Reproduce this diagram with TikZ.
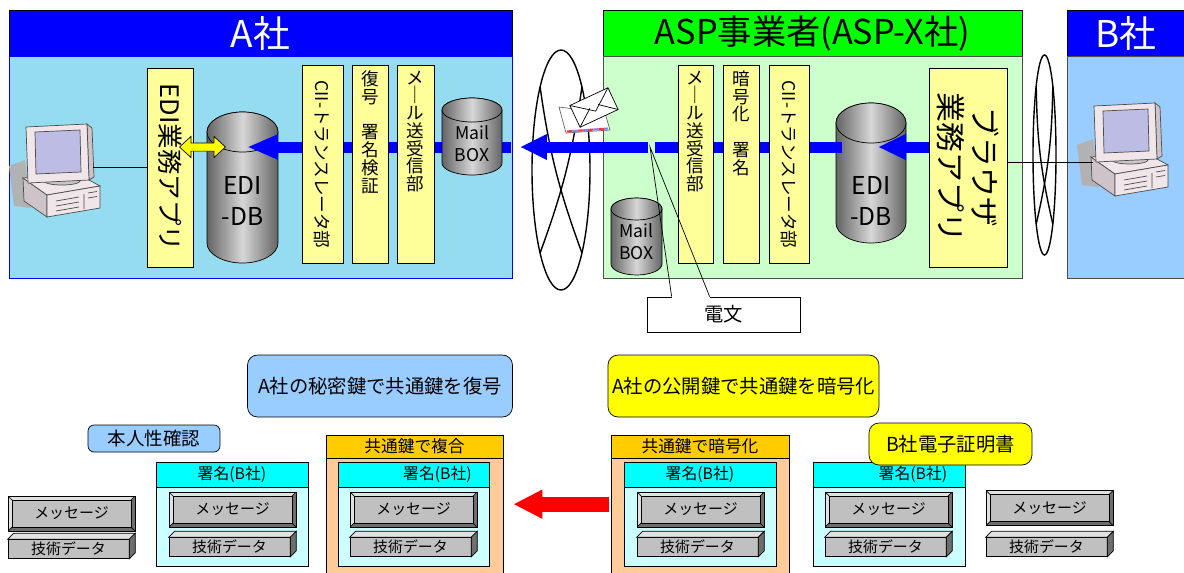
\documentclass[tikz,border=0pt]{standalone}
\usepackage{fontspec}
\setmainfont{Noto Sans CJK JP}
\usepackage{tikz}
\usetikzlibrary{arrows.meta,shapes.arrows,positioning}

\definecolor{hdrblue}{RGB}{0,0,255}
\definecolor{abody}{RGB}{150,220,240}
\definecolor{aspgreen}{RGB}{0,255,0}
\definecolor{aspbody}{RGB}{204,255,204}
\definecolor{bbody}{RGB}{153,204,255}
\definecolor{paleyellow}{RGB}{255,255,153}
\definecolor{keyblue}{RGB}{153,204,255}
\definecolor{certyellow}{RGB}{255,255,0}
\definecolor{sigcyan}{RGB}{0,255,255}
\definecolor{sigbody}{RGB}{204,255,255}
\definecolor{encorange}{RGB}{255,204,0}
\definecolor{encbody}{RGB}{255,204,153}
\definecolor{plate}{RGB}{192,192,192}
\definecolor{platelight}{RGB}{225,225,225}
\definecolor{platedark}{RGB}{110,110,110}
\definecolor{drumedge}{RGB}{100,100,100}
\definecolor{drummid}{RGB}{215,215,215}
\definecolor{pcbeige}{RGB}{240,230,234}
\definecolor{pcside}{RGB}{205,195,200}
\definecolor{pcscreen}{RGB}{188,188,228}
\definecolor{pcshadow}{RGB}{178,178,178}

% database drum: centre x, top y, x radius, y radius, bottom y
\newcommand{\drum}[5]{%
  \path[drum] (#1-#3,#2-#4) -- (#1-#3,#5+#4)
    arc[start angle=180,end angle=360,x radius=#3,y radius=#4]
    -- (#1+#3,#2-#4)
    arc[start angle=0,end angle=180,x radius=#3,y radius=#4] -- cycle;
  \path[drum] (#1,#2-#4) ellipse[x radius=#3,y radius=#4];
}
% twisted network loop: centre x, centre y, x radius, y radius
\newcommand{\twist}[4]{%
  \draw[thick] (#1,#2) ellipse[x radius=#3,y radius=#4];
  \draw[thick] (#1-0.72*#3,#2+0.69*#4) to[bend right=6] (#1+0.72*#3,#2-0.69*#4);
  \draw[thick] (#1+0.72*#3,#2+0.69*#4) to[bend left=6] (#1-0.72*#3,#2-0.69*#4);
}
% stacked upright characters
\newcommand{\tate}[1]{\parbox[c][3.75cm][t]{0.6cm}{\centering\fontsize{10}{10.1}\selectfont #1}}

\begin{document}
\begin{tikzpicture}[x=0.02cm, y=0.02cm,
    title/.style={font=\fontsize{21}{24}\selectfont, inner sep=0},
    slab/.style={draw, fill=paleyellow, inner sep=0},
    drum/.style={draw, left color=drumedge, right color=drumedge, middle color=drummid},
    drumtext/.style={align=center, inner sep=0},
    bluebar/.style={draw=hdrblue, line width=0.22cm},
    note/.style={draw, rounded corners=0.2cm, inner sep=0, font=\fontsize{11}{13}\selectfont},
    enchead/.style={draw, fill=encorange, minimum height=0.46cm, inner sep=0, font=\fontsize{9.5}{11}\selectfont},
    encpane/.style={draw, fill=encbody, minimum height=2.4cm, inner sep=0},
    sighead/.style={draw, fill=sigcyan, minimum width=3.04cm, minimum height=0.5cm, inner sep=0, font=\fontsize{9}{11}\selectfont},
    sigpane/.style={draw, fill=sigbody, minimum width=3.04cm, minimum height=1.58cm, inner sep=0},
    msgbox/.style={draw, fill=platedark, minimum width=2.54cm, minimum height=0.7cm, inner sep=0,
      font=\fontsize{8.5}{10}\selectfont,
      path picture={
        \fill[platelight] (path picture bounding box.north west) -- (path picture bounding box.north east)
          -- ([shift={(-4,-4)}]path picture bounding box.north east) -- ([shift={(4,-4)}]path picture bounding box.north west)
          -- ([shift={(4,4)}]path picture bounding box.south west) -- (path picture bounding box.south west) -- cycle;
        \draw[fill=plate] ([shift={(4,4)}]path picture bounding box.south west) rectangle ([shift={(-4,-4)}]path picture bounding box.north east);
        \draw (path picture bounding box.north west) -- ++(4,-4) (path picture bounding box.north east) -- ++(-4,-4)
          (path picture bounding box.south west) -- ++(4,4) (path picture bounding box.south east) -- ++(-4,4);
      }},
    databox/.style={draw, fill=plate, minimum width=2.42cm, minimum height=0.38cm, inner sep=0, font=\fontsize{8.5}{10}\selectfont},
    computer/.pic={
      \fill[pcshadow] (9,-66) -- (25,-60) -- (31,-108) -- (14,-106) -- cycle;
      \draw[black!70, fill=pcside] (23,-78) -- (47,-95) -- (47,-117) -- (24,-101) -- cycle;
      \draw[black!70, fill=pcbeige] (23,-78) -- (78,-74) -- (100,-86) -- (47,-95) -- cycle;
      \draw[black!70, fill=pcbeige] (47,-95) -- (100,-86) -- (100,-108) -- (47,-117) -- cycle;
      \draw[black!70] (56,-101) -- (79,-97) (56,-106) -- (79,-102) (56,-111) -- (79,-107)
        (84,-94) -- (84,-109) (88,-93) -- (97,-91.5) (88,-98) -- (97,-96.5);
      \draw[black!70, fill=pcside] (62,-81) ellipse[x radius=18,y radius=4];
      \draw[black!70, fill=pcside] (87,-24) -- (92,-28) -- (94,-77) -- (89,-80) -- cycle;
      \draw[black!70, fill=pcbeige] (26,-27) -- (87,-24) -- (89,-80) -- (28,-83) -- cycle;
      \draw[black!70, fill=pcscreen] (35,-32) -- (80,-30) -- (81,-72) -- (36,-74) -- cycle;
      \coordinate (-east) at (93,-67);
      \coordinate (-west) at (25,-83);
    }
]
\useasboundingbox (0,0) rectangle (1184,-572);

%% Frames
\draw[fill=hdrblue] (9,-10) rectangle (512,-56);
\draw[draw=hdrblue, fill=abody] (9,-56) rectangle (512,-278);
\node[title, text=white] (atitle) at (260.5,-33) {A社};

\draw[fill=aspgreen] (603,-10) rectangle (1022,-56);
\draw[draw=black!70, fill=aspbody] (603,-56) rectangle (1022,-278);
\node[title, font=\fontsize{19.5}{22}\selectfont] (asptitle) at (812.5,-33) {ASP事業者(ASP-X社)};

\draw[fill=hdrblue] (1067,-10) rectangle (1190,-56);
\draw[draw=black!70, fill=bbody] (1067,-56) rectangle (1190,-278);
\node[title, text=white] (btitle) at (1126,-33) {B社};

%% Network loops
\twist{561}{-170}{29}{120}
\twist{1044.5}{-155}{11.5}{100}

%% Terminals
\pic (pca) at (0,-100) {computer};
\pic (pcb) at (1068,-79) {computer};

%% Databases
\drum{242.5}{-112}{35.5}{20}{-263}
\node[drumtext, font=\fontsize{14}{18}\selectfont] (edia) at (242.5,-201) {EDI\\-DB};
\drum{871}{-103}{35}{20}{-243}
\node[drumtext, font=\fontsize{14}{18}\selectfont] (edix) at (871,-201) {EDI\\-DB};

%%% Arrows
\coordinate (ina) at (247,-147);
\coordinate (feeda) at (511,-147);
\coordinate (inx) at (878,-147);
\coordinate (tailx) at (842,-147);
\coordinate (tap) at (650,-147);
\coordinate (outx) at (520,-147);
\draw[bluebar, -{Triangle[length=0.62cm,width=0.46cm]}] (feeda) -- (ina);
\draw[bluebar] (tailx) -- ([xshift=0.1cm]tap);
\draw[bluebar, -{Triangle[length=0.54cm,width=0.48cm]}] ([xshift=-0.04cm]tap) -- (outx);

%% Modules
\node[slab, rotate=-90, minimum width=3.98cm, minimum height=0.92cm, font=\fontsize{14.5}{16}\selectfont] (appa) at (170,-167.5) {EDI業務アプリ};
\node[slab, rotate=-90, minimum width=3.96cm, minimum height=0.82cm, font=\fontsize{10}{12}\selectfont] (ciia) at (322.5,-164.5) {CII-トランスレータ部};
\node[slab, minimum width=0.72cm, minimum height=3.96cm] (veria) at (370,-164.5) {\tate{復\\号\\\mbox{}\\署\\名\\検\\証}};
\node[slab, minimum width=0.74cm, minimum height=3.96cm] (maila) at (415.5,-164.5) {\tate{メ\\｜\\ル\\送\\受\\信\\部}};

\node[slab, minimum width=0.7cm, minimum height=3.96cm] (mailx) at (695.5,-164.5) {\tate{メ\\｜\\ル\\送\\受\\信\\部}};
\node[slab, minimum width=0.72cm, minimum height=3.96cm] (encx) at (741,-164.5) {\tate{暗\\号\\化\\\mbox{}\\署\\名}};
\node[slab, rotate=-90, minimum width=3.96cm, minimum height=0.8cm, font=\fontsize{10}{12}\selectfont] (ciix) at (789,-164.5) {CII-トランスレータ部};
\node[slab, rotate=-90, minimum width=3.98cm, minimum height=1.56cm, align=center, font=\fontsize{17}{19}\selectfont] (browser) at (968,-167.5) {ブラウザ\\業務アプリ};

\draw[bluebar, -{Triangle[length=0.56cm,width=0.48cm]}] (browser.south |- inx) -- (inx);
\draw (pca-east) -- (pca-east -| appa.south);
\draw (browser.north |- pcb-west) -- (pcb-west);

%% Mail boxes
\drum{472}{-98}{30}{12}{-175}
\node[drumtext, font=\fontsize{10}{12.5}\selectfont] (mboxa) at (472,-144) {Mail\\BOX};
\drum{636.5}{-198}{25.5}{11}{-275}
\node[drumtext, font=\fontsize{10}{12.5}\selectfont] (mboxx) at (636.5,-242) {Mail\\BOX};

\node[double arrow, draw, fill=certyellow, minimum height=0.92cm, inner sep=0.075cm,
  double arrow head extend=0.13cm, double arrow tip angle=85] (sync) at (202.5,-147) {};

%% Envelope
\begin{scope}[shift={(585,-110)}]
  \draw[fill=white, draw=black!60] (-26,3) -- (20,-3) -- (25,-20) -- (-19,-23) -- cycle;
  \draw[red!80, line width=1.2pt, dash pattern=on 3pt off 3pt] (-18,-21.5) -- (23,-18.5);
  \draw[blue!50, line width=1.2pt, dash pattern=on 3pt off 3pt, dash phase=3pt] (-18,-21.5) -- (23,-18.5);
  \begin{scope}[shift={(9,2.5)}, rotate=25]
    \draw[fill=white] (-21,-12) rectangle (21,12);
    \draw (-21,12) -- (0,-4) -- (21,12);
    \draw (-21,-12) -- (-4,1) (21,-12) -- (5,1);
  \end{scope}
\end{scope}

%% Message callout
\node[draw, fill=white, minimum width=3.06cm, minimum height=0.7cm, font=\fontsize{11}{13}\selectfont] (dembun) at (723.5,-314.5) {電文};
\draw[white, line width=1.2pt] ([xshift=0.5cm]dembun.north west) -- ([xshift=1.26cm]dembun.north west);
\draw ([xshift=0.5cm]dembun.north west) -- (tap) -- ([xshift=1.26cm]dembun.north west);

%% Key handling
\node[note, fill=keyblue, minimum width=5.3cm, minimum height=1.24cm] (decnote) at (380,-386) {A社の秘密鍵で共通鍵を復号};
\node[note, fill=certyellow, minimum width=5.42cm, minimum height=1.24cm] (encnote) at (743.5,-386) {A社の公開鍵で共通鍵を暗号化};
\node[note, fill=keyblue, rounded corners=0.12cm, minimum width=2.64cm, minimum height=0.54cm, font=\fontsize{10.5}{12}\selectfont] (idnote) at (154,-438.5) {本人性確認};

\node[enchead, minimum width=3.54cm] (dechd) at (414.5,-446.5) {共通鍵で複合};
\node[encpane, minimum width=3.54cm, below=0pt of dechd] (decbd) {};
\node[enchead, minimum width=3.56cm] (enchd) at (700,-446.5) {共通鍵で暗号化};
\node[encpane, minimum width=3.56cm, below=0pt of enchd] (encbd) {};

\node[sighead] (sighd1) at (232,-474.5) {署名(B社)};
\node[sigpane, below=0pt of sighd1] (sigbd1) {};
\node[sighead, minimum width=3.02cm] (sighd2) at (413.5,-474.5) {\hspace*{0.96cm}署名(B社)};
\node[sigpane, minimum width=3.02cm, below=0pt of sighd2] (sigbd2) {};
\node[sighead] (sighd3) at (700,-474.5) {署名(B社)};
\node[sigpane, below=0pt of sighd3] (sigbd3) {};
\node[sighead] (sighd4) at (889,-474.5) {\hspace*{0.96cm}署名(B社)};
\node[sigpane, below=0pt of sighd4] (sigbd4) {};

\node[note, fill=certyellow, minimum width=3.26cm, minimum height=0.84cm] (certnote) at (950.5,-444) {B社電子証明書};

%% Message and technical data
\node[msgbox] (msg0) at (71.5,-513.5) {メッセージ};
\node[msgbox] (msg1) at (232.5,-509.5) {メッセージ};
\node[msgbox] (msg2) at (413.5,-509.5) {メッセージ};
\node[msgbox] (msg3) at (700.5,-509.5) {メッセージ};
\node[msgbox] (msg4) at (888.5,-509.5) {メッセージ};
\node[msgbox] (msg5) at (1049.5,-508) {メッセージ};

\node[databox] (dat0) at (68.5,-549) {技術データ};
\node[databox] (dat1) at (229.5,-547) {技術データ};
\node[databox] (dat2) at (410.5,-547) {技術データ};
\node[databox] (dat3) at (697.5,-547) {技術データ};
\node[databox] (dat4) at (885.5,-547) {技術データ};
\node[databox] (dat5) at (1046.5,-547) {技術データ};
\foreach \d in {dat0,dat1,dat2,dat3,dat4,dat5} {
  \draw[fill=platelight] (\d.north west) -- ++(6,6) -- ([shift={(6,6)}]\d.north east) -- (\d.north east) -- cycle;
  \draw[fill=platedark] (\d.north east) -- ++(6,6) -- ([shift={(6,6)}]\d.south east) -- (\d.south east) -- cycle;
}

\draw[draw=red, line width=0.3cm, -{Triangle[length=0.58cm,width=0.54cm]}]
  ([shift={(-2,14.5)}]encbd.west) -- ([shift={(10,14.5)}]decbd.east);
\end{tikzpicture}
\end{document}
